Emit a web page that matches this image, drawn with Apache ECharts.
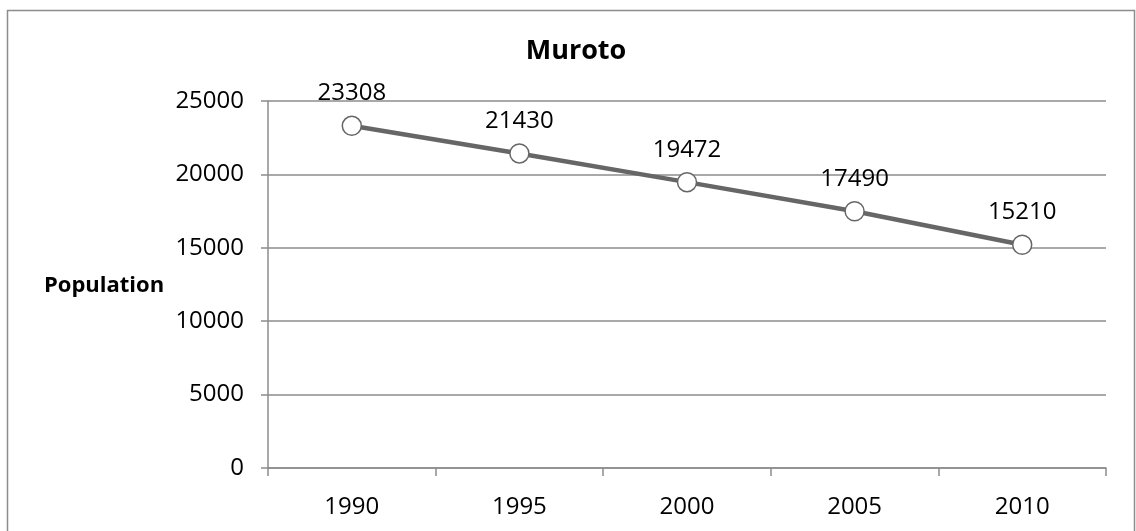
<!DOCTYPE html>
<html>
<head>
<meta charset="utf-8">
<script src="https://cdn.jsdelivr.net/npm/echarts@6/dist/echarts.min.js"></script>
<style>
  html, body { margin: 0; padding: 0; background: #fff; }
  #main { width: 1136px; height: 531px; }
</style>
</head>
<body>
<div id="main"></div>
<script>
// 数据
var years = ['1990', '1995', '2000', '2005', '2010'];
var population = [23308, 21430, 19472, 17490, 15210];
var yTicks = [0, 5000, 10000, 15000, 20000, 25000];

var font = '"Open Sans", "Liberation Sans", sans-serif';

var myChart = echarts.init(document.getElementById('main'));

var option = {
    backgroundColor: '#fff',
    animation: false,
    title: {
        text: 'Muroto',
        left: 571,
        textAlign: 'center',
        top: 33,
        textStyle: { fontFamily: font, fontSize: 27, fontWeight: 'bold', color: '#000' }
    },
    graphic: [
        {
            type: 'rect',
            shape: { x: 7.5, y: 10.5, width: 1127, height: 540 },
            style: { fill: null, stroke: '#8c8c8c', lineWidth: 1.5 }
        },
        {
            type: 'text',
            left: 44,
            top: 275,
            style: { text: 'Population', font: 'bold 22px ' + font, fill: '#000' }
        }
    ],
    grid: { left: 268, right: 30, top: 101, bottom: 63 },
    xAxis: {
        type: 'category',
        data: years,
        boundaryGap: true,
        axisLine: { lineStyle: { color: '#8c8c8c', width: 1.5 } },
        axisTick: { show: true, length: 8, lineStyle: { color: '#8c8c8c', width: 1.5 } },
        axisLabel: { fontFamily: font, fontSize: 24, color: '#000', margin: 27 }
    },
    yAxis: {
        type: 'value',
        min: yTicks[0],
        max: yTicks[yTicks.length - 1],
        interval: 5000,
        axisLine: { show: true, lineStyle: { color: '#8c8c8c', width: 1.5 } },
        axisTick: { show: true, length: 7, lineStyle: { color: '#8c8c8c', width: 1.5 } },
        axisLabel: {
            fontFamily: font, fontSize: 24, color: '#000', margin: 24,
            formatter: function (v) { return String(v); }
        },
        splitLine: { lineStyle: { color: '#8c8c8c', width: 1.5 } }
    },
    series: [
        {
            type: 'line',
            data: population,
            symbol: 'circle',
            symbolSize: 19,
            lineStyle: { color: '#666', width: 4.5 },
            itemStyle: { color: '#fff', borderColor: '#666', borderWidth: 1.5 },
            label: {
                show: true,
                position: 'top',
                distance: 10,
                fontFamily: font,
                fontSize: 24,
                color: '#000'
            }
        }
    ]
};
myChart.setOption(option);
</script>
</body>
</html>
